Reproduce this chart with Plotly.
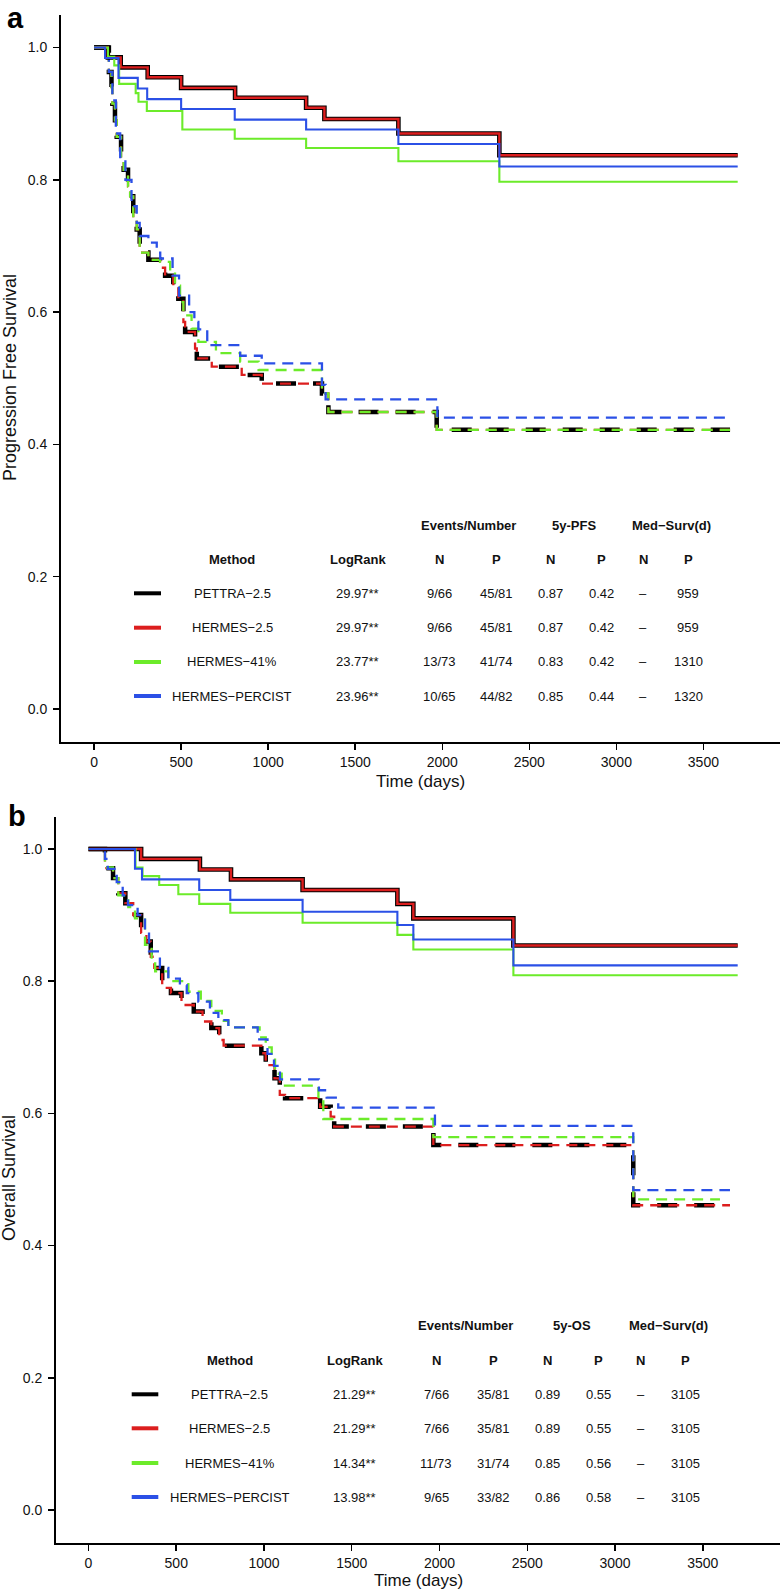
import plotly.graph_objects as go

W, H = 780, 1592

# ---------------- data ----------------
methods = ["PETTRA\u22122.5", "HERMES\u22122.5", "HERMES\u221241%", "HERMES\u2212PERCIST"]
colors = ["#000000", "#DC1E1E", "#6CEB2A", "#2B50E6"]
x_ticks = [0, 500, 1000, 1500, 2000, 2500, 3000, 3500]
y_ticks = [0.0, 0.2, 0.4, 0.6, 0.8, 1.0]
y_tick_text = ["0.0", "0.2", "0.4", "0.6", "0.8", "1.0"]

# PFS (panel a) - N group (solid)
pfs_N_25_t = [0, 79, 153, 308, 500, 810, 1218, 1323, 1748, 2328, 3697]
pfs_N_25_s = [1.0, 0.985, 0.970, 0.955, 0.939, 0.924, 0.909, 0.892, 0.870, 0.837, 0.837]
pfs_N_41_t = [0, 80, 116, 144, 239, 255, 303, 507, 808, 1218, 1748, 2328, 3697]
pfs_N_41_s = [1.0, 0.986, 0.973, 0.945, 0.931, 0.918, 0.904, 0.876, 0.862, 0.848, 0.828, 0.797, 0.797]
pfs_N_pc_t = [0, 63, 140, 251, 305, 500, 808, 1218, 1748, 2328, 3697]
pfs_N_pc_s = [1.0, 0.984, 0.954, 0.938, 0.922, 0.907, 0.891, 0.876, 0.854, 0.820, 0.820]
# PFS - P group (dashed)
pfs_P_25_t = [0, 85, 100, 105, 120, 130, 155, 170, 195, 207, 225, 245, 262, 312, 379, 408, 455,
              484, 513, 523, 580, 590, 676, 848, 963, 1309, 1346, 1968, 3653]
pfs_P_25_s = [1.0, 0.963, 0.94, 0.915, 0.89, 0.865, 0.83, 0.815, 0.79, 0.775, 0.745, 0.725, 0.69,
              0.679, 0.667, 0.655, 0.638, 0.62, 0.585, 0.57, 0.545, 0.53, 0.5175, 0.505, 0.492,
              0.477, 0.449, 0.422, 0.422]
pfs_P_41_t = [0, 85, 100, 105, 120, 130, 155, 170, 195, 207, 225, 245, 262, 312, 379, 437, 465,
              494, 513, 560, 599, 700, 839, 945, 1309, 1346, 1968, 3653]
pfs_P_41_s = [1.0, 0.963, 0.94, 0.915, 0.89, 0.865, 0.83, 0.815, 0.79, 0.775, 0.745, 0.725, 0.69,
              0.679, 0.676, 0.66, 0.64, 0.615, 0.595, 0.575, 0.555, 0.538, 0.525, 0.5125, 0.477,
              0.449, 0.422, 0.422]
pfs_P_pc_t = [0, 85, 105, 125, 150, 180, 215, 245, 262, 312, 360, 380, 451, 488, 546, 576, 599,
              650, 839, 963, 1309, 1330, 1972, 3653]
pfs_P_pc_s = [1.0, 0.963, 0.92, 0.87, 0.83, 0.80, 0.76, 0.735, 0.715, 0.705, 0.69, 0.681, 0.655,
              0.625, 0.60, 0.585, 0.574, 0.55, 0.534, 0.5226, 0.49, 0.468, 0.4404, 0.4404]

# OS (panel b) - N group (solid)
os_N_25_t = [0, 300, 635, 812, 1220, 1760, 1851, 2421, 3699]
os_N_25_s = [1.0, 0.985, 0.969, 0.954, 0.938, 0.917, 0.895, 0.854, 0.854]
os_N_41_t = [0, 268, 308, 403, 512, 631, 808, 1220, 1760, 1851, 2421, 3699]
os_N_41_s = [1.0, 0.972, 0.959, 0.9455, 0.9315, 0.917, 0.9036, 0.8885, 0.870, 0.848, 0.809, 0.809]
os_N_pc_t = [0, 265, 305, 631, 808, 1220, 1760, 1851, 2421, 3699]
os_N_pc_s = [1.0, 0.970, 0.954, 0.938, 0.923, 0.905, 0.885, 0.863, 0.824, 0.824]
# OS - P group (dashed)
os_P_25_t = [0, 94, 140, 170, 210, 255, 300, 330, 355, 375, 420, 470, 530, 600, 650, 700, 745,
             770, 985, 1010, 1060, 1090, 1120, 1320, 1380, 1400, 1965, 3104, 3655]
os_P_25_s = [1.0, 0.971, 0.956, 0.933, 0.918, 0.90, 0.873, 0.86, 0.837, 0.82, 0.79, 0.782, 0.764,
             0.754, 0.739, 0.729, 0.711, 0.7025, 0.691, 0.673, 0.653, 0.628, 0.623, 0.61, 0.595,
             0.58, 0.552, 0.461, 0.461]
os_P_41_t = [0, 94, 140, 170, 227, 265, 322, 360, 380, 455, 569, 640, 700, 760, 797, 975, 1010,
             1044, 1063, 1101, 1310, 1338, 1965, 3104, 3598]
os_P_41_s = [1.0, 0.972, 0.956, 0.93, 0.912, 0.895, 0.855, 0.83, 0.815, 0.80, 0.784, 0.77, 0.755,
             0.74, 0.73, 0.715, 0.70, 0.685, 0.66, 0.642, 0.625, 0.5915, 0.564, 0.470, 0.470]
os_P_pc_t = [0, 94, 110, 161, 195, 225, 280, 322, 345, 407, 455, 521, 560, 626, 692, 740, 797,
             964, 1020, 1057, 1091, 1313, 1357, 1423, 1974, 3104, 3655]
os_P_pc_s = [1.0, 0.985, 0.97, 0.95, 0.93, 0.915, 0.90, 0.872, 0.845, 0.82, 0.804, 0.794, 0.782,
             0.769, 0.752, 0.741, 0.73, 0.712, 0.69, 0.672, 0.6515, 0.635, 0.624, 0.6086, 0.581,
             0.484, 0.484]

# Tables
pfs_logrank = ["29.97**", "29.97**", "23.77**", "23.96**"]
pfs_events_N = ["9/66", "9/66", "13/73", "10/65"]
pfs_events_P = ["45/81", "45/81", "41/74", "44/82"]
pfs_5y_N = ["0.87", "0.87", "0.83", "0.85"]
pfs_5y_P = ["0.42", "0.42", "0.42", "0.44"]
pfs_med_N = ["\u2013", "\u2013", "\u2013", "\u2013"]
pfs_med_P = ["959", "959", "1310", "1320"]

os_logrank = ["21.29**", "21.29**", "14.34**", "13.98**"]
os_events_N = ["7/66", "7/66", "11/73", "9/65"]
os_events_P = ["35/81", "35/81", "31/74", "33/82"]
os_5y_N = ["0.89", "0.89", "0.85", "0.86"]
os_5y_P = ["0.55", "0.55", "0.56", "0.58"]
os_med_N = ["\u2013", "\u2013", "\u2013", "\u2013"]
os_med_P = ["3105", "3105", "3105", "3105"]

# ---------------- figure ----------------
FONT = "Liberation Sans, Arial, Helvetica, sans-serif"
fig = go.Figure()


def X(p):
    return p / W


def Y(p):
    return 1 - p / H


def add_curves(xa, ya, N_curves, P_curves):
    # dashed (P) first, then solid (N)
    for i, (t, s) in enumerate(P_curves):
        if i == 0:
            line = dict(color=colors[0], width=4.5, dash="20px,17px")
        else:
            line = dict(color=colors[i], width=2.3, dash="11px,7px")
        fig.add_trace(go.Scatter(x=t, y=s, mode="lines", line=line, line_shape="hv",
                                 xaxis=xa, yaxis=ya, showlegend=False, hoverinfo="skip"))
    for i, (t, s) in enumerate(N_curves):
        if i == 0:
            line = dict(color=colors[0], width=4.6)
        elif i == 1:
            line = dict(color=colors[1], width=2.4)
        else:
            line = dict(color=colors[i], width=2.1)
        fig.add_trace(go.Scatter(x=t, y=s, mode="lines", line=line, line_shape="hv",
                                 xaxis=xa, yaxis=ya, showlegend=False, hoverinfo="skip"))


add_curves("x", "y",
           [(pfs_N_25_t, pfs_N_25_s), (pfs_N_25_t, pfs_N_25_s), (pfs_N_41_t, pfs_N_41_s), (pfs_N_pc_t, pfs_N_pc_s)],
           [(pfs_P_25_t, pfs_P_25_s), (pfs_P_25_t, pfs_P_25_s), (pfs_P_41_t, pfs_P_41_s), (pfs_P_pc_t, pfs_P_pc_s)])
add_curves("x2", "y2",
           [(os_N_25_t, os_N_25_s), (os_N_25_t, os_N_25_s), (os_N_41_t, os_N_41_s), (os_N_pc_t, os_N_pc_s)],
           [(os_P_25_t, os_P_25_s), (os_P_25_t, os_P_25_s), (os_P_41_t, os_P_41_s), (os_P_pc_t, os_P_pc_s)])

annotations = []
shapes = []


def txt(x, y, s, size=13, bold=False, angle=0):
    annotations.append(dict(xref="paper", yref="paper", x=X(x), y=Y(y), text=("<b>%s</b>" % s) if bold else s,
                            showarrow=False, xanchor="center", yanchor="middle", textangle=angle,
                            font=dict(family=FONT, size=size, color="#111111")))


def table(dx, head_y, sub_y, rows_y, line_x, sname, cols):
    txt(468.3 + dx, head_y, "Events/Number", bold=True)
    txt(574.3 + dx, head_y, sname, bold=True)
    txt(671 + dx, head_y, "Med\u2212Surv(d)", bold=True)
    col_x = [232.3, 357.7, 439, 496.7, 550.7, 601.3, 643.3, 688]
    subs = ["Method", "LogRank", "N", "P", "N", "P", "N", "P"]
    for cx, sub in zip(col_x, subs):
        txt(cx + dx, sub_y, sub, bold=True)
    for r in range(4):
        vals = [methods[r]] + [c[r] for c in cols]
        for cx, v in zip(col_x, vals):
            txt(cx + dx, rows_y[r], v)
        shapes.append(dict(type="line", xref="paper", yref="paper",
                           x0=X(line_x[0]), x1=X(line_x[1]), y0=Y(rows_y[r]), y1=Y(rows_y[r]),
                           line=dict(color=colors[r], width=4)))


table(0, 525, 559.3, [593.3, 627.7, 662, 696], (134, 161), "5y-PFS",
      [pfs_logrank, pfs_events_N, pfs_events_P, pfs_5y_N, pfs_5y_P, pfs_med_N, pfs_med_P])
table(-2.8, 1325.7, 1360, [1394.3, 1428.3, 1463, 1497], (131.7, 158.3), "5y-OS",
      [os_logrank, os_events_N, os_events_P, os_5y_N, os_5y_P, os_med_N, os_med_P])

# titles and panel labels
txt(420.5, 781.5, "Time (days)", size=17)
txt(418, 1580.5, "Time (days)", size=17)
txt(10, 378, "Progression Free Survival", size=18, angle=-90)
txt(9, 1178, "Overall Survival", size=18, angle=-90)
annotations.append(dict(xref="paper", yref="paper", x=X(15.5), y=Y(18), text="<b>a</b>", showarrow=False,
                        xanchor="center", yanchor="middle", font=dict(family=FONT, size=29, color="#000")))
annotations.append(dict(xref="paper", yref="paper", x=X(16.5), y=Y(816), text="<b>b</b>", showarrow=False,
                        xanchor="center", yanchor="middle", font=dict(family=FONT, size=29, color="#000")))

axis_common = dict(showgrid=False, zeroline=False, showline=True, linewidth=2, linecolor="#000",
                   ticks="outside", ticklen=6, tickwidth=1.5, tickcolor="#000",
                   tickfont=dict(family=FONT, size=14, color="#111111"), automargin=False)

fig.update_layout(
    width=W, height=H, margin=dict(l=0, r=0, t=0, b=0),
    paper_bgcolor="white", plot_bgcolor="white", showlegend=False,
    annotations=annotations, shapes=shapes,
    xaxis=dict(domain=[61 / W, 1], range=[-190, 3940], tickvals=x_ticks, anchor="y", **axis_common),
    yaxis=dict(domain=[1 - 741.7 / H, 1 - 15 / H], range=[-0.0494, 1.0491], tickvals=y_ticks,
               ticktext=y_tick_text, anchor="x", ticklabelstandoff=3, **axis_common),
    xaxis2=dict(domain=[56 / W, 1], range=[-185, 3940], tickvals=x_ticks, anchor="y2", **axis_common),
    yaxis2=dict(domain=[1 - 1543.3 / H, 1 - 817 / H], range=[-0.0504, 1.0484], tickvals=y_ticks,
                ticktext=y_tick_text, anchor="x2", ticklabelstandoff=3, **axis_common),
)

fig.write_html("out.html",
               config={"displayModeBar": False, "staticPlot": True},
               post_script="document.body.style.margin='0px';document.body.style.padding='0px';"
                           "document.body.style.overflow='hidden';")
